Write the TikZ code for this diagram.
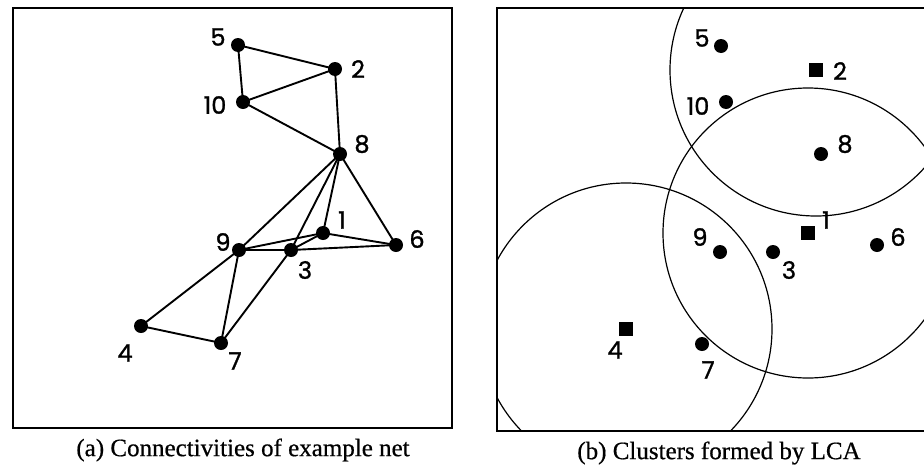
\documentclass[tikz,border=0pt]{standalone}
\usepackage{fontspec}
\setmainfont{Liberation Serif}[FakeBold=0.6]
\newfontfamily\labfont{Poppins}[FakeBold=1.2]
\begin{document}
\begin{tikzpicture}[x=1pt,y=-1pt,
  dot/.style={circle,fill=black,inner sep=0pt,minimum size=14pt},
  sq/.style={rectangle,fill=black,inner sep=0pt,minimum size=14pt},
  lab/.style={font=\labfont\fontsize{24}{24}\selectfont,inner sep=0pt},
  edge/.style={line width=1.9pt},
  frame/.style={line width=1.9pt},
  ring/.style={line width=1.2pt},
  capt/.style={font=\fontsize{25}{25}\selectfont,inner sep=0pt}]
\useasboundingbox (0,0) rectangle (924,469);
\clip (0,0) rectangle (924,469);
% ---------- panel (a) ----------
\draw[frame] (13,8) rectangle (452,428);
\node[dot] (a5) at (238,45) {};
\node[dot] (a2) at (335,69) {};
\node[dot] (a10) at (243,102) {};
\node[dot] (a8) at (340,154) {};
\node[dot] (a1) at (323,233) {};
\node[dot] (a9) at (239,250) {};
\node[dot] (a3) at (291,250) {};
\node[dot] (a6) at (396,245) {};
\node[dot] (a4) at (141,326) {};
\node[dot] (a7) at (221,343) {};
\foreach \u/\v in {5/2,5/10,10/2,2/8,10/8,8/9,8/3,8/1,8/6,9/1,9/3,3/1,3/6,1/6,9/4,9/7,3/7,4/7}
  \draw[edge] (a\u.center) -- (a\v.center);
\node[lab] (la5) at (218,37) {5};
\node[lab] (la2) at (358,69) {2};
\node[lab] (la10) at (215,105) {10};
\node[lab] (la8) at (362,144) {8};
\node[lab] (la1) at (342,220) {1};
\node[lab] (la9) at (223,242) {9};
\node[lab] (la3) at (305,270) {3};
\node[lab] (la6) at (417,239) {6};
\node[lab] (la4) at (125,353) {4};
\node[lab] (la7) at (235,361) {7};
\node[capt] (capa) at (243,450) {(a) Connectivities of example net};
% ---------- panel (b) ----------
\draw[frame] (497,8) rectangle (940,431);
\node[dot] (b5) at (721,46) {};
\node[sq] (b2) at (816,70) {};
\node[dot] (b10) at (726,102) {};
\node[dot] (b8) at (821,154) {};
\node[sq] (b1) at (808,233) {};
\node[dot] (b6) at (877,245) {};
\node[dot] (b3) at (773,252) {};
\node[dot] (b9) at (720,252) {};
\node[sq] (b4) at (626,329) {};
\node[dot] (b7) at (702,344) {};
\begin{scope}
  \clip (497,8) rectangle (940,431);
  \draw[ring] (b2.center) circle[radius=146];
  \draw[ring] (b1.center) circle[radius=145];
  \draw[ring] (b4.center) circle[radius=146];
\end{scope}
\node[lab] (lb5) at (702,38) {5};
\node[lab] (lb2) at (840,71) {2};
\node[lab] (lb10) at (698,106) {10};
\node[lab] (lb8) at (845,144) {8};
\node[lab] (lb1) at (826,220) {1};
\node[lab] (lb6) at (898,237) {6};
\node[lab] (lb3) at (789,270) {3};
\node[lab] (lb9) at (700,237) {9};
\node[lab] (lb4) at (615,350) {4};
\node[lab] (lb7) at (708,370) {7};
\node[capt] (capb) at (719,453) {(b) Clusters formed by LCA};
\end{tikzpicture}
\end{document}
